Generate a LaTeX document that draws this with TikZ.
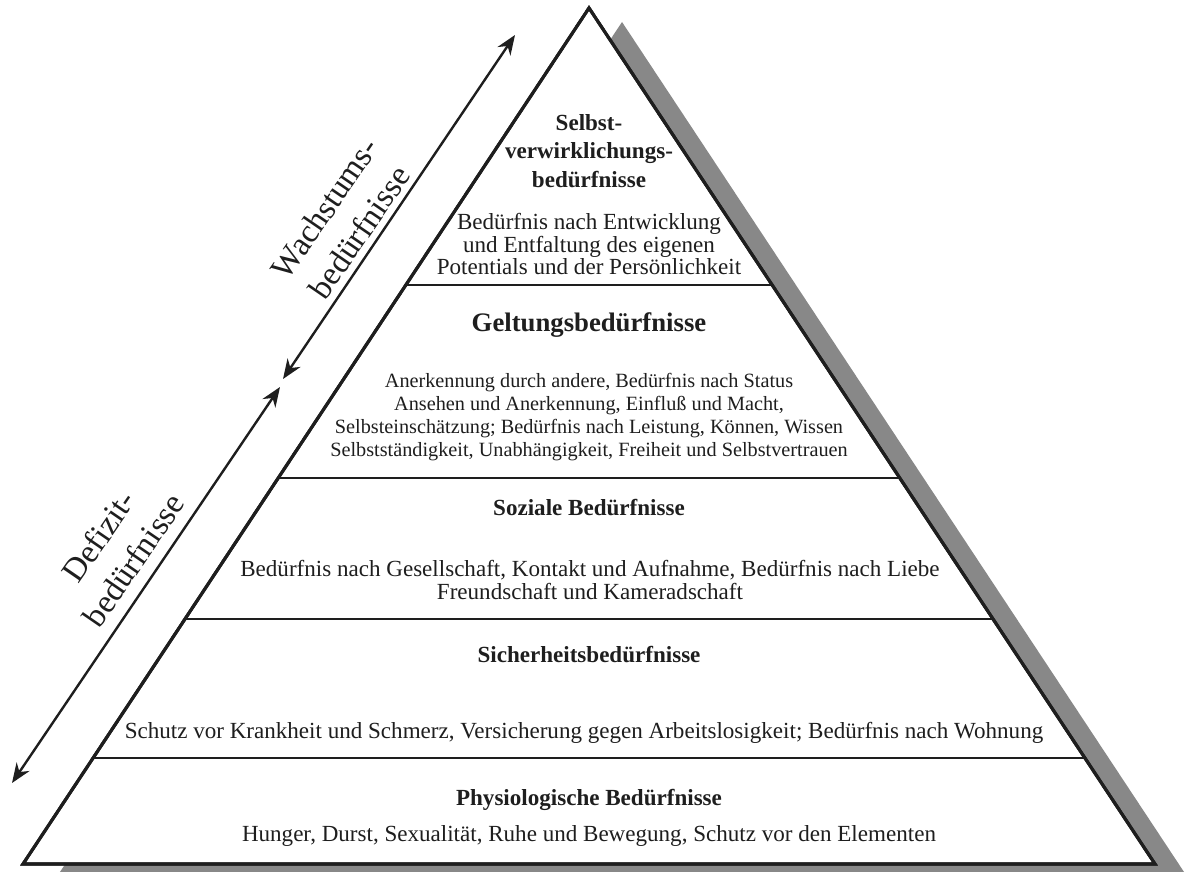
\documentclass[tikz,border=0pt]{standalone}
\usepackage{fontspec}
\setmainfont{Liberation Serif}
\usetikzlibrary{calc,arrows.meta}
\definecolor{ink}{HTML}{1E1E1E}
\definecolor{shadowgray}{HTML}{888888}
\begin{document}
\begin{tikzpicture}[x=0.025cm,y=-0.025cm,
  outline/.style={line width=2.2pt, draw=ink, fill=white, line join=miter},
  levelline/.style={line width=1.7pt, draw=ink},
  span/.style={line width=1.7pt, draw=ink,
    {Stealth[length=14pt,width=11pt]}-{Stealth[length=14pt,width=11pt]}},
  head/.style={font=\fontsize{16.4}{20.3}\selectfont\bfseries, align=center, text=ink, inner sep=0pt},
  bighead/.style={font=\fontsize{19}{22}\selectfont\bfseries, align=center, text=ink, inner sep=0pt},
  body/.style={font=\fontsize{16.4}{16.3}\selectfont, align=center, text=ink, inner sep=0pt},
  smallbody/.style={font=\fontsize{14.4}{16.4}\selectfont, align=center, text=ink, inner sep=0pt},
  side/.style={font=\fontsize{23.5}{30}\selectfont, align=center, rotate=55.5, text=ink, inner sep=0pt}]
\useasboundingbox (0,0) rectangle (1188,872);

% corners of the pyramid
\coordinate (apex) at (589,8);
\coordinate (bl) at (23,864);
\coordinate (br) at (1155,864);

% drop shadow behind the pyramid
\fill[shadowgray] ($(apex)+(33,14)$) -- ($(br)+(33,14)$) -- ($(bl)+(33,14)$) -- cycle;

% pyramid body
\path[outline] (apex) -- (br) -- (bl) -- cycle;

% level separators
\foreach \t in {0.3236,0.5491,0.7138,0.8762}
  \draw[levelline] ($(apex)!\t!(bl)$) -- ($(apex)!\t!(br)$);
\path[draw=ink, line width=2.2pt, line join=miter] (apex) -- (br) -- (bl) -- cycle;

% level 5
\node[head] (selbstT) at (589,151) {Selbst-\\verwirklichungs-\\bedürfnisse};
\node[body] (selbstB) at (589,244) {Bedürfnis nach Entwicklung\\und Entfaltung des eigenen\\Potentials und der Persönlichkeit};

% level 4
\node[bighead] (geltT) at (589,325) {Geltungsbedürfnisse};
\node[smallbody] (geltB) at (589,417) {Anerkennung durch andere, Bedürfnis nach Status\\Ansehen und Anerkennung, Einfluß und Macht,\\Selbsteinschätzung; Bedürfnis nach Leistung, Können, Wissen\\Selbstständigkeit, Unabhängigkeit, Freiheit und Selbstvertrauen};

% level 3
\node[head] (sozT) at (589,508) {Soziale Bedürfnisse};
\node[body] (sozB) at (590,580) {Bedürfnis nach Gesellschaft, Kontakt und Aufnahme, Bedürfnis nach Liebe\\Freundschaft und Kameradschaft};

% level 2
\node[head] (sichT) at (589,655) {Sicherheitsbedürfnisse};
\node[body] (sichB) at (584,733) {Schutz vor Krankheit und Schmerz, Versicherung gegen Arbeitslosigkeit; Bedürfnis nach Wohnung};

% level 1
\node[head] (physT) at (589,800) {Physiologische Bedürfnisse};
\node[body] (physB) at (589,836) {Hunger, Durst, Sexualität, Ruhe und Bewegung, Schutz vor den Elementen};

% side arrows and labels
\coordinate (gTop) at (515,35);
\coordinate (gBot) at (283,379);
\coordinate (dTop) at (280,387);
\coordinate (dBot) at (12,783);
\draw[span] (gBot) -- (gTop);
\draw[span] (dBot) -- (dTop);

\node[side] (growth) at (342,220) {Wachstums-\\bedürfnisse};
\node[side] (deficit) at (116,548) {Defizit-\\bedürfnisse};
\end{tikzpicture}
\end{document}
